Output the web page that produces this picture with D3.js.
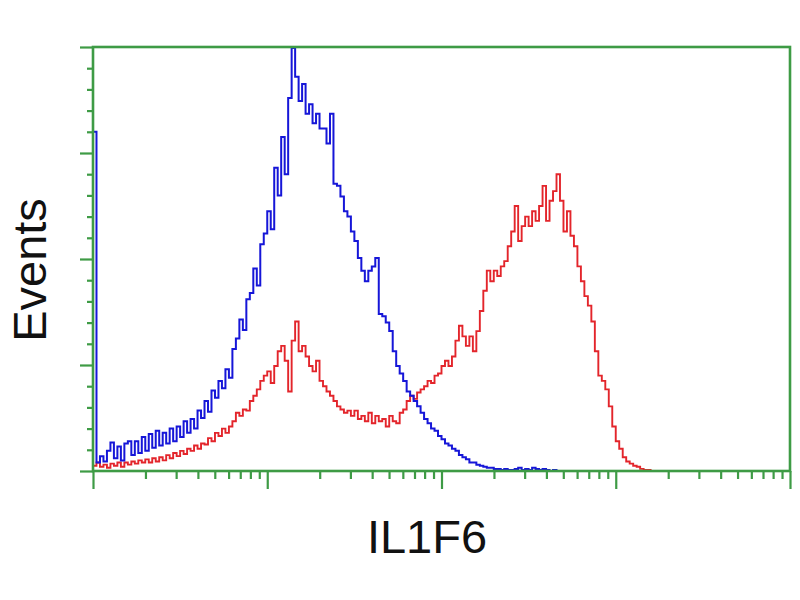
<!DOCTYPE html>
<html>
<head>
<meta charset="utf-8">
<script src="https://cdn.jsdelivr.net/npm/d3@7"></script>
<style>
  html, body { margin: 0; padding: 0; background: #ffffff; }
  svg { display: block; }
</style>
</head>
<body>
<svg id="chart" width="800" height="600"></svg>
<script>
// ---- Data (histogram counts per log-spaced channel bin; 200 bins over 4 decades) ----
const binsPerDecade = 50;
const decades = [1, 10, 100, 1000, 10000];
const minorMultipliers = [2, 3, 4, 5, 6, 7, 8, 9];
const yTicksMajor = [0, 100, 200, 300, 400];

const controlCounts = [ // blue (isotype / control)
  320, 8, 14, 9, 19, 27, 12, 23, 10, 26,
  28, 15, 28, 17, 32, 19, 35, 22, 38, 24,
  36, 26, 40, 28, 42, 32, 47, 36, 49, 40,
  57, 50, 66, 56, 76, 69, 85, 78, 96, 88,
  115, 125, 143, 133, 162, 168, 191, 175, 214, 224,
  245, 228, 286, 260, 315, 280, 352, 399, 372, 349,
  365, 337, 346, 328, 337, 323, 323, 309, 337, 271,
  269, 259, 245, 240, 226, 217, 201, 189, 179, 189,
  193, 201, 148, 146, 140, 132, 113, 99, 92, 85,
  75, 71, 66, 61, 55, 49, 45, 40, 38, 33,
  30, 26, 24, 21, 19, 15, 13, 11, 8, 8,
  6, 5, 4, 3, 3, 2, 2, 1, 2, 1,
  1, 2, 3, 1, 2, 1, 3, 2, 1, 2,
  1, 0, 1, 0
];

const il1f6Counts = [ // red (IL1F6 stained)
  5, 8, 4, 6, 3, 7, 5, 8, 4, 8,
  6, 9, 7, 10, 8, 11, 8, 12, 9, 13,
  10, 15, 12, 17, 14, 19, 16, 21, 19, 24,
  21, 26, 25, 31, 28, 36, 33, 40, 36, 42,
  47, 55, 52, 58, 57, 66, 71, 77, 85, 90,
  94, 83, 99, 113, 118, 104, 75, 123, 141, 113,
  118, 108, 99, 94, 104, 85, 80, 75, 71, 66,
  61, 58, 55, 57, 52, 57, 49, 52, 47, 55,
  45, 52, 47, 49, 42, 52, 47, 45, 55, 58,
  66, 71, 68, 74, 77, 80, 85, 83, 90, 92,
  99, 104, 99, 108, 123, 137, 127, 118, 127, 113,
  132, 151, 170, 189, 179, 189, 184, 193, 198, 212,
  226, 250, 217, 231, 240, 231, 245, 236, 250, 269,
  236, 255, 264, 280, 255, 226, 245, 222, 212, 193,
  179, 165, 156, 141, 113, 90, 85, 77, 61, 42,
  28, 21, 13, 9, 7, 5, 4, 2, 1, 1
];

const xLabel = "IL1F6";
const yLabel = "Events";

// ---- Layout ----
const svg = d3.select("#chart");
const plotLeft = 93, plotRight = 790, plotTop = 47, plotBottom = 471;
const green = "#3e9b45";

const x = d3.scaleLog().domain([1, 10000]).range([plotLeft, plotRight]);
const y = d3.scaleLinear().domain([0, 400]).range([plotBottom, plotTop]);

const edge = i => Math.pow(10, i / binsPerDecade);

function stepPoints(counts) {
  const pts = counts.map((c, i) => [edge(i), c]);
  pts.push([edge(counts.length), 0]);
  return pts;
}

const line = d3.line()
  .x(d => x(d[0]))
  .y(d => y(d[1]))
  .curve(d3.curveStepAfter);

// ---- Histograms ----
svg.append("path")
  .datum(stepPoints(il1f6Counts))
  .attr("d", line)
  .attr("fill", "none")
  .attr("stroke", "#e3252b")
  .attr("stroke-width", 1.9);

svg.append("path")
  .datum(stepPoints(controlCounts))
  .attr("d", line)
  .attr("fill", "none")
  .attr("stroke", "#1616d8")
  .attr("stroke-width", 2);

// ---- Axes ----
const minorX = [];
decades.slice(0, -1).forEach(d => minorMultipliers.forEach(m => minorX.push(d * m)));
const minorY = d3.range(0, 401, 20).filter(v => v % 100 !== 0);

function styleAxis(g) {
  g.select(".domain").remove();
  g.selectAll(".tick line").attr("stroke", green).attr("stroke-width", 2.2);
  g.selectAll("text").remove();
}

svg.append("g").attr("transform", `translate(0,${plotBottom})`)
  .call(d3.axisBottom(x).tickValues(minorX).tickSize(8).tickFormat(""))
  .call(styleAxis);
svg.append("g").attr("transform", `translate(0,${plotBottom})`)
  .call(d3.axisBottom(x).tickValues(decades).tickSize(18).tickFormat(""))
  .call(styleAxis);

svg.append("g").attr("transform", `translate(${plotLeft},0)`)
  .call(d3.axisLeft(y).tickValues(minorY).tickSize(6).tickFormat(""))
  .call(styleAxis);
svg.append("g").attr("transform", `translate(${plotLeft},0)`)
  .call(d3.axisLeft(y).tickValues(yTicksMajor).tickSize(13).tickFormat(""))
  .call(styleAxis);

// frame
svg.append("rect")
  .attr("x", plotLeft).attr("y", plotTop)
  .attr("width", plotRight - plotLeft).attr("height", plotBottom - plotTop)
  .attr("fill", "none")
  .attr("stroke", green)
  .attr("stroke-width", 2.6);

// ---- Labels ----
svg.append("text")
  .attr("x", 427).attr("y", 553)
  .attr("text-anchor", "middle")
  .attr("font-family", "Liberation Sans, Arial, sans-serif")
  .attr("font-size", 47)
  .attr("fill", "#111")
  .text(xLabel);

svg.append("text")
  .attr("transform", "translate(46,270) rotate(-90)")
  .attr("text-anchor", "middle")
  .attr("font-family", "Liberation Sans, Arial, sans-serif")
  .attr("font-size", 47)
  .attr("fill", "#111")
  .text(yLabel);
</script>
</body>
</html>
